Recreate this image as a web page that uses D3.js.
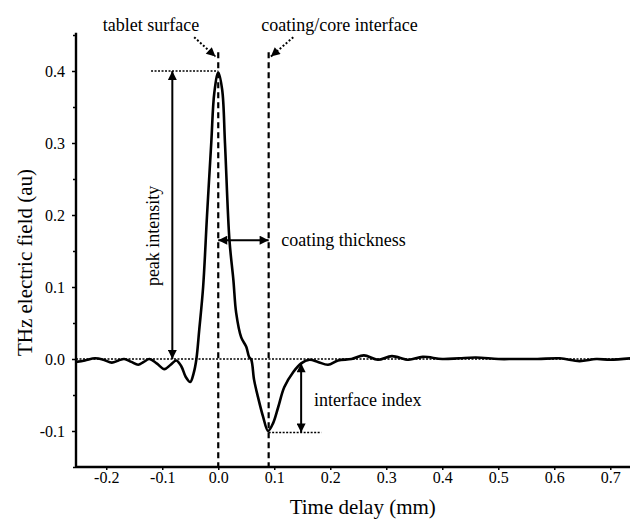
<!DOCTYPE html>
<html lang="en">
<head>
    <meta charset="utf-8">
    <script src="https://d3js.org/d3.v7.min.js"></script>
</head>
<style>
    body { margin: 0; background: #fff; }
    text { font-family: "Liberation Serif", "Times New Roman", serif; fill: #000; }
</style>
<body>
<script>
    // canvas size, same as the picture
    const w = 630
    const h = 520

    // the waveform (mm, au)
    const timeDelay = [-0.254, -0.238, -0.22, -0.205, -0.19, -0.178, -0.168, -0.155, -0.143, -0.133,
        -0.123, -0.11, -0.096, -0.085, -0.075, -0.066, -0.058, -0.05, -0.044, -0.039,
        -0.034, -0.027, -0.02, -0.0125, -0.007, 0.0, 0.007, 0.012, 0.02, 0.027,
        0.032, 0.041, 0.05, 0.055, 0.059, 0.064, 0.071, 0.08, 0.089, 0.098,
        0.107, 0.118, 0.134, 0.148, 0.163, 0.178, 0.196, 0.214, 0.238, 0.26,
        0.285, 0.31, 0.34, 0.365, 0.40, 0.43, 0.46, 0.50, 0.53, 0.57,
        0.61, 0.645, 0.675, 0.70, 0.737]
    const field = [-0.004, -0.002, 0.001, -0.001, -0.005, -0.002, 0.0, -0.004, -0.008, -0.004,
        0.0, -0.006, -0.014, -0.008, -0.002, -0.01, -0.025, -0.032, -0.02, 0.0,
        0.04, 0.1, 0.2, 0.3, 0.37, 0.398, 0.374, 0.3, 0.165, 0.11,
        0.064, 0.03, 0.017, 0.003, -0.001, -0.029, -0.053, -0.08, -0.1, -0.089,
        -0.067, -0.039, -0.018, -0.006, -0.001, -0.004, -0.008, -0.002, 0.0, 0.005,
        -0.001, 0.004, -0.001, 0.003, 0.0, 0.001, 0.002, 0.0, 0.0, 0.0,
        0.001, -0.003, 0.0, -0.001, 0.001]

    // ticks
    const xTicks = [-0.2, -0.1, 0.0, 0.1, 0.2, 0.3, 0.4, 0.5, 0.6, 0.7]
    const yTicks = [-0.1, 0.0, 0.1, 0.2, 0.3, 0.4]
    const yMinor = [-0.15, -0.05, 0.05, 0.15, 0.25, 0.35, 0.45]

    // annotation anchors (data units)
    const surfaceX = 0.0
    const interfaceX = 0.09
    const peakY = 0.4
    const dipY = -0.102
    const peakArrowX = -0.082
    const thicknessY = 0.165
    const indexArrowX = 0.148
    const indexTopY = -0.006

    let svg = d3.select("body")
        .append("svg")
        .attr("width", w)
        .attr("height", h)

    let xScale = d3.scaleLinear()
        .domain([-0.254, 0.737])
        .range([76, 631])

    let yScale = d3.scaleLinear()
        .domain([-0.15, 0.4])
        .range([467, 71])

    // arrow head marker
    let defs = svg.append("defs")
    defs.append("marker")
        .attr("id", "head")
        .attr("viewBox", "0 0 10 10")
        .attr("refX", 10)
        .attr("refY", 5)
        .attr("markerWidth", 11)
        .attr("markerHeight", 9)
        .attr("markerUnits", "userSpaceOnUse")
        .attr("orient", "auto-start-reverse")
        .append("path")
        .attr("d", "M0,0 L10,5 L0,10 Z")
        .attr("fill", "#000")

    // zero line
    svg.append("line")
        .attr("x1", xScale(-0.254)).attr("x2", w)
        .attr("y1", yScale(0)).attr("y2", yScale(0))
        .attr("stroke", "#000").attr("stroke-width", 1.3)
        .attr("stroke-dasharray", "2,1.5")

    // the two dashed boundaries
    svg.selectAll(".bound")
        .data([surfaceX, interfaceX])
        .enter()
        .append("line")
        .attr("x1", d => xScale(d)).attr("x2", d => xScale(d))
        .attr("y1", yScale(0.426)).attr("y2", yScale(-0.15))
        .attr("stroke", "#000").attr("stroke-width", 2.2)
        .attr("stroke-dasharray", "6,4")

    // waveform
    let line = d3.line()
        .x((d, i) => xScale(timeDelay[i]))
        .y(d => yScale(d))
        .curve(d3.curveCatmullRom.alpha(0.5))

    svg.append("path")
        .datum(field)
        .attr("d", line)
        .attr("fill", "none")
        .attr("stroke", "#000")
        .attr("stroke-width", 2.6)

    // axes
    let fmt = d => d3.format(".1f")(d).replace("\u2212", "-")
    let xaxis = d3.axisBottom(xScale).tickValues(xTicks).tickSize(3).tickPadding(2).tickFormat(fmt)
    let yaxis = d3.axisLeft(yScale).tickValues(yTicks).tickSize(4).tickPadding(7).tickFormat(fmt)

    let gx = svg.append("g")
        .attr("transform", "translate(0," + yScale(-0.15) + ")")
        .call(xaxis)
    let gy = svg.append("g")
        .attr("transform", "translate(" + xScale(-0.254) + ",0)")
        .call(yaxis)

    let gm = svg.append("g")
        .attr("transform", "translate(" + xScale(-0.254) + ",0)")
        .call(d3.axisLeft(yScale).tickValues(yMinor).tickSize(3).tickFormat(""))
    gm.select(".domain").remove()
    gm.selectAll("text").remove()

    gx.select(".domain").attr("d", "M" + xScale(-0.254) + ",0H" + w).attr("stroke-width", 2.4)
    gy.select(".domain").attr("d", "M0," + yScale(0.453) + "V" + yScale(-0.15)).attr("stroke-width", 2.4)
    svg.selectAll(".tick line").attr("stroke-width", 1.5)
    svg.selectAll(".tick text")
        .style("font-family", "'Liberation Serif', serif")
        .style("font-size", "16px")

    // axis titles
    svg.append("text")
        .attr("x", xScale(0.258)).attr("y", 514)
        .attr("text-anchor", "middle")
        .attr("font-size", "21px")
        .text("Time delay (mm)")

    svg.append("text")
        .attr("transform", "translate(32," + yScale(0.134) + ") rotate(-90)")
        .attr("text-anchor", "middle")
        .attr("font-size", "21px")
        .text("THz electric field (au)")

    // peak intensity
    svg.append("line")
        .attr("x1", xScale(-0.12)).attr("x2", xScale(surfaceX))
        .attr("y1", yScale(peakY)).attr("y2", yScale(peakY))
        .attr("stroke", "#000").attr("stroke-width", 1.6)
        .attr("stroke-dasharray", "2,1.5")

    svg.append("line")
        .attr("x1", xScale(peakArrowX)).attr("x2", xScale(peakArrowX))
        .attr("y1", yScale(0)).attr("y2", yScale(peakY))
        .attr("stroke", "#000").attr("stroke-width", 2)
        .attr("marker-start", "url(#head)")
        .attr("marker-end", "url(#head)")

    svg.append("text")
        .attr("transform", "translate(" + (xScale(-0.105)) + "," + yScale(0.171) + ") rotate(-90)")
        .attr("text-anchor", "middle")
        .attr("font-size", "18px")
        .text("peak intensity")

    // coating thickness
    svg.append("line")
        .attr("x1", xScale(surfaceX)).attr("x2", xScale(interfaceX))
        .attr("y1", yScale(thicknessY)).attr("y2", yScale(thicknessY))
        .attr("stroke", "#000").attr("stroke-width", 2)
        .attr("marker-start", "url(#head)")
        .attr("marker-end", "url(#head)")

    svg.append("text")
        .attr("x", xScale(0.1125)).attr("y", yScale(0.157))
        .attr("font-size", "18px")
        .text("coating thickness")

    // interface index
    svg.append("line")
        .attr("x1", xScale(interfaceX)).attr("x2", xScale(0.184))
        .attr("y1", yScale(dipY)).attr("y2", yScale(dipY))
        .attr("stroke", "#000").attr("stroke-width", 1.6)
        .attr("stroke-dasharray", "2,1.5")

    svg.append("line")
        .attr("x1", xScale(indexArrowX)).attr("x2", xScale(indexArrowX))
        .attr("y1", yScale(indexTopY)).attr("y2", yScale(dipY))
        .attr("stroke", "#000").attr("stroke-width", 2)
        .attr("marker-start", "url(#head)")
        .attr("marker-end", "url(#head)")

    svg.append("text")
        .attr("x", xScale(0.171)).attr("y", yScale(-0.065))
        .attr("font-size", "18px")
        .text("interface index")

    // top labels with dotted pointers
    svg.append("text")
        .attr("x", xScale(-0.12)).attr("y", yScale(0.455))
        .attr("text-anchor", "middle")
        .attr("font-size", "18px")
        .text("tablet surface")

    svg.append("text")
        .attr("x", xScale(0.077)).attr("y", yScale(0.455))
        .attr("font-size", "18px")
        .text("coating/core interface")

    let pointers = [
        { x1: -0.043, y1: 0.447, x2: -0.005, y2: 0.42 },
        { x1: 0.134, y1: 0.447, x2: 0.094, y2: 0.42 }
    ]
    svg.selectAll(".pointer")
        .data(pointers)
        .enter()
        .append("line")
        .attr("x1", d => xScale(d.x1)).attr("y1", d => yScale(d.y1))
        .attr("x2", d => xScale(d.x2)).attr("y2", d => yScale(d.y2))
        .attr("stroke", "#000").attr("stroke-width", 2)
        .attr("stroke-dasharray", "2,2")
        .attr("marker-end", "url(#head)")
</script>
</body>
</html>
